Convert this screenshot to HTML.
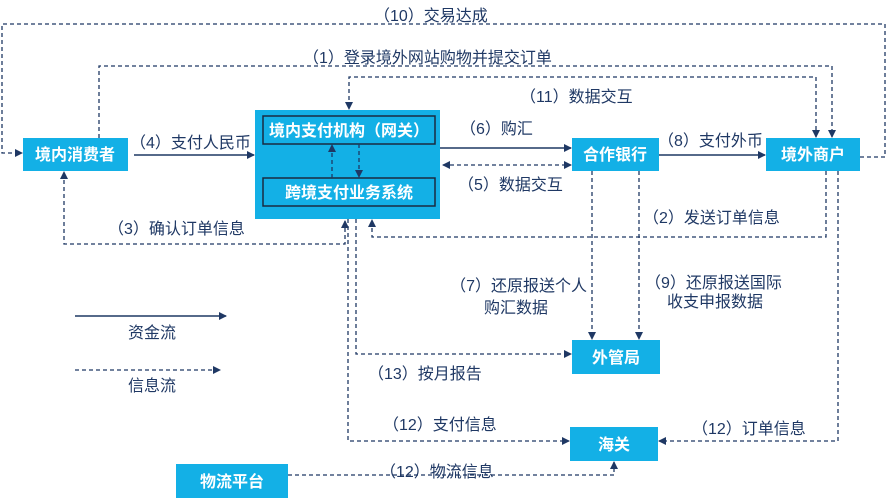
<!DOCTYPE html>
<html><head><meta charset="utf-8"><style>
body{margin:0;background:#fff}
svg{display:block}
text{font-family:"Liberation Sans","Noto Sans CJK SC",sans-serif;font-size:16px;fill:#1f3864}
.b{fill:#ffffff;font-weight:bold;font-size:16px}
.box{fill:#13b0e6}
.s{stroke:#1f3864;stroke-width:1.5;fill:none}
.d{stroke:#1f3864;stroke-width:1.3;fill:none;stroke-dasharray:4,3}
</style></head><body>
<svg width="889" height="500" viewBox="0 0 889 500">
<defs><marker id="a" markerWidth="8" markerHeight="8" refX="7" refY="4" orient="auto" markerUnits="userSpaceOnUse"><path d="M0,0 L8,4 L0,8 z" fill="#1f3864"/></marker>
<marker id="as" markerWidth="8" markerHeight="8" refX="1" refY="4" orient="auto" markerUnits="userSpaceOnUse"><path d="M8,0 L0,4 L8,8 z" fill="#1f3864"/></marker></defs>

<rect class="box" x="23" y="138" width="105" height="33"/>
<text class="b" x="75" y="160" text-anchor="middle">境内消费者</text>
<rect class="box" x="255" y="110" width="185" height="109"/>
<rect x="263" y="116" width="172" height="28" fill="#13b0e6" stroke="#1a2a40" stroke-width="1.5"/>
<text class="b" x="349" y="136" text-anchor="middle">境内支付机构（网关）</text>
<rect x="263" y="178" width="172" height="28" fill="#13b0e6" stroke="#1a2a40" stroke-width="1.5"/>
<text class="b" x="349" y="198" text-anchor="middle">跨境支付业务系统</text>
<rect class="box" x="572" y="138" width="87" height="33"/>
<text class="b" x="615" y="160" text-anchor="middle">合作银行</text>
<rect class="box" x="766" y="138" width="94" height="33"/>
<text class="b" x="813" y="160" text-anchor="middle">境外商户</text>
<rect class="box" x="572" y="340" width="88" height="34"/>
<text class="b" x="616" y="363" text-anchor="middle">外管局</text>
<rect class="box" x="570" y="427" width="88" height="34"/>
<text class="b" x="614" y="450" text-anchor="middle">海关</text>
<rect class="box" x="176" y="464" width="112" height="34"/>
<text class="b" x="232" y="487" text-anchor="middle">物流平台</text>

<path class="d" d="M860,157 H885 V24 H2 V153 H22" marker-end="url(#a)"/>
<text x="374" y="21">（10）交易达成</text>
<path class="d" d="M99,138 V66 H832 V137" marker-end="url(#a)"/>
<text x="303" y="63">（1）登录境外网站购物并提交订单</text>
<path class="d" d="M816,137 V77 H349 V109" marker-end="url(#a)" marker-start="url(#as)"/>
<text x="520" y="102">（11）数据交互</text>
<path class="s" d="M134,155 H254" marker-end="url(#a)"/>
<text x="130" y="148">（4）支付人民币</text>
<path class="s" d="M440,148 H571" marker-end="url(#a)"/>
<text x="460" y="134">（6）购汇</text>
<path class="d" d="M443,165 H571" marker-end="url(#a)" marker-start="url(#as)"/>
<text x="458" y="190">（5）数据交互</text>
<path class="s" d="M659,155 H765" marker-end="url(#a)"/>
<text x="658" y="146">（8）支付外币</text>
<path class="d" d="M332,178 V145" marker-end="url(#a)"/>
<path class="d" d="M359,144 V177" marker-end="url(#a)"/>
<path class="d" d="M345,221 V244 H64 V172" marker-end="url(#a)" marker-start="url(#as)"/>
<text x="108" y="234">（3）确认订单信息</text>
<path class="d" d="M826,171 V237 H372 V220" marker-end="url(#a)"/>
<text x="643" y="223">（2）发送订单信息</text>
<path class="d" d="M592,171 V339" marker-end="url(#a)"/>
<path class="d" d="M639,171 V339" marker-end="url(#a)"/>
<text x="587" y="291" text-anchor="end">（7）还原报送个人</text>
<text x="548" y="313" text-anchor="end">购汇数据</text>
<text x="645" y="288">（9）还原报送国际</text>
<text x="667" y="307">收支申报数据</text>
<path class="d" d="M356,219 V354 H571" marker-end="url(#a)"/>
<text x="368" y="379">（13）按月报告</text>
<path class="d" d="M348,219 V441 H569" marker-end="url(#a)"/>
<text x="383" y="430">（12）支付信息</text>
<path class="d" d="M838,171 V441 H659" marker-end="url(#a)"/>
<text x="692" y="434">（12）订单信息</text>
<path class="d" d="M288,475 H614 V462" marker-end="url(#a)"/>
<text x="380" y="477">（12）物流信息</text>
<path class="s" d="M75,316 H226" marker-end="url(#a)"/>
<text x="128" y="338">资金流</text>
<path class="d" d="M75,370 H220" marker-end="url(#a)"/>
<text x="128" y="391">信息流</text>
</svg>
</body></html>
